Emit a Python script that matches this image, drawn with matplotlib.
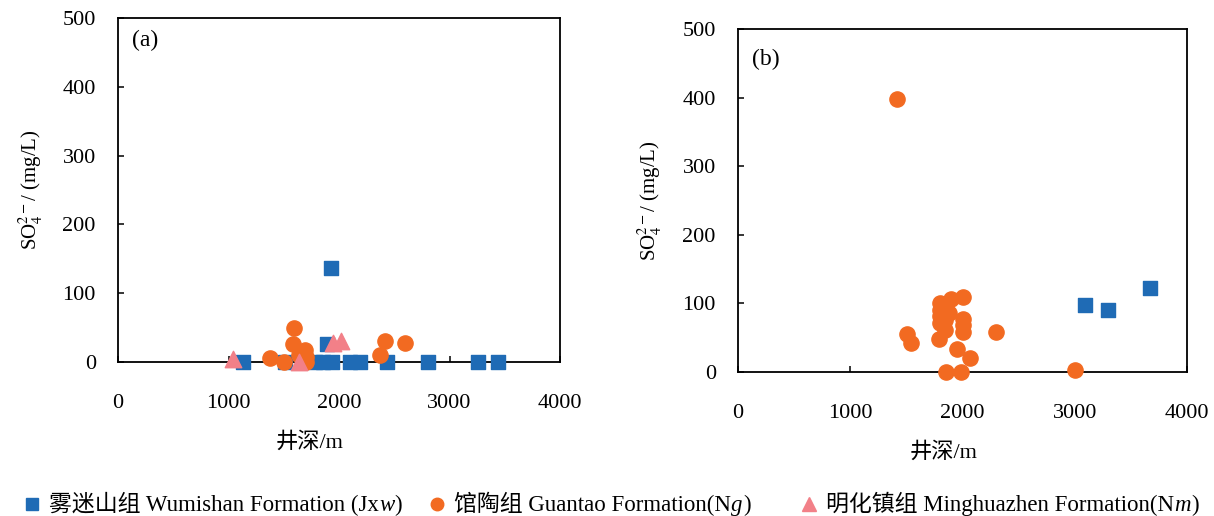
import matplotlib
matplotlib.use("Agg")
import matplotlib.pyplot as plt
from matplotlib.lines import Line2D
from matplotlib.offsetbox import AnchoredOffsetbox, DrawingArea, HPacker, TextArea

plt.rcParams['font.family'] = ['Liberation Serif', 'Noto Sans CJK SC']
plt.rcParams['mathtext.fontset'] = 'stix'
plt.rcParams['axes.unicode_minus'] = False

# (a) well depth (m) and SO4 (mg/L) for each formation
a_wumishan_depth = [1135, 1510, 1785, 1855, 1935, 2100, 2190, 2435, 2805, 3255, 3440, 1925, 1890]
a_wumishan_so4 = [0, 0, 0, 0, 0, 0, 0, 0, 0, 0, 0, 136, 26]
a_guantao_depth = [1595, 1585, 1690, 1705, 1380, 1500, 1640, 1700, 2420, 2600, 2375]
a_guantao_so4 = [50, 26, 18, 8, 6, 0, 10, 0, 30, 28, 10]
a_minghua_depth = [1045, 1640, 1950, 2015]
a_minghua_so4 = [5, 0, 28, 30]

# (b)
b_wumishan_depth = [3095, 3295, 3670]
b_wumishan_so4 = [98, 91, 123]
b_guantao_depth = [1420, 1505, 1540, 1795, 1795, 1795, 1795, 1790, 1895, 2000, 1840,
                   1880, 2000, 2000, 2000, 1840, 1955, 2070, 2295, 1850, 1990, 3000]
b_guantao_so4 = [398, 56, 42, 100, 90, 81, 71, 48, 106, 109, 76,
                 86, 77, 68, 59, 61, 33, 21, 59, 0, 0, 3]

x_ticks = [0, 1000, 2000, 3000, 4000]
y_ticks = [0, 100, 200, 300, 400, 500]

BLUE = '#1f6bb5'
ORANGE = '#f26a21'
PINK = '#f28088'

# legend text pieces: (plain part, italic letter, closing)
legend_items = [
    ('s', BLUE, 8, '雾迷山组 Wumishan Formation (Jx', 'w', ')'),
    ('o', ORANGE, 9, '馆陶组 Guantao Formation(N', 'g', ')'),
    ('^', PINK, 10.5, '明化镇组 Minghuazhen Formation(N', 'm', ')'),
]
legend_x = [0.0201, 0.3537, 0.660]

fig = plt.figure(figsize=(12.14, 5.16), dpi=100)
ax_a = fig.add_axes([0.0972, 0.2984, 0.3641, 0.6667])
ax_b = fig.add_axes([0.6079, 0.2791, 0.3699, 0.6647])


def style_axes(ax, letter, letter_y, xlab_x):
    ax.set_xlim(0, 4000)
    ax.set_ylim(0, 500)
    ax.set_xticks(x_ticks)
    ax.set_yticks(y_ticks)
    ax.tick_params(axis='both', direction='in', length=4, width=1.1, labelsize=16,
                   top=False, right=False)
    ax.tick_params(axis='x', pad=23)
    ax.tick_params(axis='y', pad=16)
    for sp in ax.spines.values():
        sp.set_linewidth(1.3)
    ax.set_ylabel('SO$_4^{2-}$/ (mg/L)', fontsize=15)
    ax.yaxis.set_label_coords(-0.165, 0.5)
    ax.set_xlabel('井深/m', fontsize=16)
    ax.xaxis.set_label_coords(xlab_x, -0.205)
    ax.text(0.032, letter_y, letter, transform=ax.transAxes, fontsize=17, va='center')


ax_a.scatter(a_wumishan_depth, a_wumishan_so4, marker='s', s=88, color=BLUE,
             clip_on=False, zorder=3)
ax_a.scatter(a_guantao_depth, a_guantao_so4, marker='o', s=120, color=ORANGE,
             clip_on=False, zorder=4)
ax_a.scatter(a_minghua_depth, a_minghua_so4, marker='^', s=140, color=PINK,
             clip_on=False, zorder=5)
style_axes(ax_a, '(a)', 0.935, 0.434)

ax_b.scatter(b_wumishan_depth, b_wumishan_so4, marker='s', s=88, color=BLUE,
             clip_on=False, zorder=3)
ax_b.scatter(b_guantao_depth, b_guantao_so4, marker='o', s=120, color=ORANGE,
             clip_on=False, zorder=4)
style_axes(ax_b, '(b)', 0.91, 0.457)

# legend drawn piece by piece so the italic letters and CJK text can mix
for (mk, col, ms, plain, ital, close), lx in zip(legend_items, legend_x):
    da = DrawingArea(11, 11, 0, 0)
    da.add_artist(Line2D([5.5], [5.5], marker=mk, markersize=ms, color=col, linestyle='none'))
    txt = HPacker(children=[
        TextArea(plain, textprops=dict(fontsize=16.5)),
        TextArea(ital, textprops=dict(fontsize=16.5, fontstyle='italic', family='Liberation Serif')),
        TextArea(close, textprops=dict(fontsize=16.5)),
    ], align='baseline', pad=0, sep=0)
    row = HPacker(children=[da, txt], align='center', pad=0, sep=7)
    box = AnchoredOffsetbox(loc='center left', child=row, pad=0, borderpad=0, frameon=False,
                            bbox_to_anchor=(lx, 0.024), bbox_transform=fig.transFigure)
    fig.add_artist(box)

fig.savefig('out.png', dpi=100)
